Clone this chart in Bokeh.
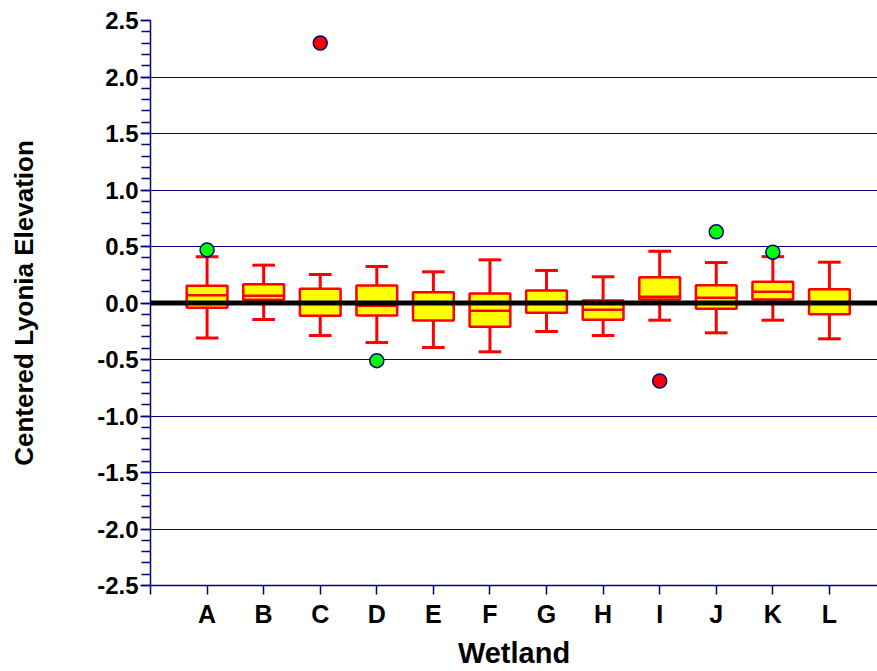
from bokeh.plotting import figure
from bokeh.models import Range1d, FixedTicker, PrintfTickFormatter, Span, ColumnDataSource
from bokeh.embed import file_html
from bokeh.resources import INLINE

# ---- data ----
categories = ["A", "B", "C", "D", "E", "F", "G", "H", "I", "J", "K", "L"]
upper = [0.41, 0.335, 0.252, 0.323, 0.276, 0.382, 0.288, 0.232, 0.458, 0.358, 0.41, 0.361]
q3 = [0.152, 0.166, 0.126, 0.155, 0.096, 0.084, 0.111, 0.022, 0.228, 0.158, 0.188, 0.122]
median = [0.069, 0.064, -0.005, -0.025, -0.005, -0.069, 0.005, -0.06, 0.055, 0.046, 0.099, 0.0]
q1 = [-0.042, 0.028, -0.113, -0.111, -0.155, -0.211, -0.087, -0.149, 0.03, -0.051, 0.031, -0.099]
lower = [-0.31, -0.146, -0.288, -0.35, -0.394, -0.432, -0.252, -0.288, -0.152, -0.264, -0.152, -0.317]

outlier_cat = ["A", "C", "D", "I", "J", "K"]
outlier_val = [0.47, 2.30, -0.51, -0.69, 0.63, 0.45]
outlier_kind = ["near", "far", "near", "far", "near", "near"]

y_ticks = [-2.5, -2.0, -1.5, -1.0, -0.5, 0.0, 0.5, 1.0, 1.5, 2.0, 2.5]

# ---- styles ----
NAVY = "#000080"
RED = "#FF0000"
YELLOW = "#FFFF00"
FONT = "Liberation Sans"
kind_color = {"near": "#00FF00", "far": "#FF0000"}
BOX_W = 0.72
CAP_W = 0.4

pos = {c: i + 1 for i, c in enumerate(categories)}
xs = [pos[c] for c in categories]

box_src = ColumnDataSource(dict(
    x=xs, upper=upper, q3=q3, median=median, q1=q1, lower=lower,
    x0=[x - BOX_W / 2 for x in xs], x1=[x + BOX_W / 2 for x in xs],
    c0=[x - CAP_W / 2 for x in xs], c1=[x + CAP_W / 2 for x in xs],
))
out_src = ColumnDataSource(dict(
    x=[pos[c] for c in outlier_cat], y=outlier_val,
    color=[kind_color[k] for k in outlier_kind],
))

p = figure(width=877, height=671, output_backend="svg", toolbar_location=None,
           x_range=Range1d(0, 12.85), y_range=Range1d(-2.5, 2.5),
           min_border_left=150, min_border_right=0, min_border_top=20,
           min_border_bottom=86)
p.outline_line_color = None
p.background_fill_color = "white"
p.border_fill_color = "white"

# whiskers
p.segment("x", "q3", "x", "upper", source=box_src, line_color=RED, line_width=3)
p.segment("x", "q1", "x", "lower", source=box_src, line_color=RED, line_width=3)
p.segment("c0", "upper", "c1", "upper", source=box_src, line_color=RED, line_width=3)
p.segment("c0", "lower", "c1", "lower", source=box_src, line_color=RED, line_width=3)
# boxes
p.vbar(x="x", width=BOX_W, top="q3", bottom="q1", source=box_src,
       fill_color=YELLOW, line_color=RED, line_width=2.5)
p.segment("x0", "median", "x1", "median", source=box_src, line_color=RED, line_width=2.5)

# zero line
p.add_layout(Span(location=0, dimension="width", line_color="black", line_width=5))

# outliers
p.scatter("x", "y", source=out_src, size=14, fill_color="color",
          line_color=NAVY, line_width=1.5, level="overlay")

# grid
p.xgrid.visible = False
p.ygrid.ticker = FixedTicker(ticks=[t for t in y_ticks if -2.5 < t < 2.5])
p.ygrid.grid_line_color = NAVY
p.ygrid.grid_line_width = 1

# y axis
minor = [round(-2.5 + 0.1 * i, 1) for i in range(51)]
p.yaxis.ticker = FixedTicker(ticks=y_ticks, minor_ticks=minor)
p.yaxis.formatter = PrintfTickFormatter(format="%.1f")
p.yaxis.axis_line_color = NAVY
p.yaxis.axis_line_width = 1.5
p.yaxis.major_tick_line_color = NAVY
p.yaxis.minor_tick_line_color = NAVY
p.yaxis.major_tick_line_width = 1.5
p.yaxis.minor_tick_line_width = 1.5
p.yaxis.major_tick_out = 10
p.yaxis.major_tick_in = 0
p.yaxis.minor_tick_out = 9
p.yaxis.minor_tick_in = 0
p.yaxis.major_label_standoff = 2
p.yaxis.major_label_text_font = FONT
p.yaxis.major_label_text_font_style = "bold"
p.yaxis.major_label_text_font_size = "24px"
p.yaxis.major_label_text_color = "black"
p.yaxis.axis_label = "Centered Lyonia Elevation"
p.yaxis.axis_label_text_font = FONT
p.yaxis.axis_label_text_font_style = "bold"
p.yaxis.axis_label_text_font_size = "26px"
p.yaxis.axis_label_text_color = "black"
p.yaxis.axis_label_standoff = 55

# x axis
p.xaxis.ticker = FixedTicker(ticks=[0] + xs)
overrides = {pos[c]: c for c in categories}
overrides[0] = ""
p.xaxis.major_label_overrides = overrides
p.xaxis.axis_line_color = NAVY
p.xaxis.axis_line_width = 1.5
p.xaxis.major_tick_line_color = NAVY
p.xaxis.major_tick_line_width = 1.5
p.xaxis.major_tick_out = 9
p.xaxis.major_tick_in = 0
p.xaxis.minor_tick_line_color = None
p.xaxis.major_label_standoff = 5
p.xaxis.major_label_text_font = FONT
p.xaxis.major_label_text_font_style = "bold"
p.xaxis.major_label_text_font_size = "25px"
p.xaxis.major_label_text_color = "black"
p.xaxis.axis_label = "Wetland"
p.xaxis.axis_label_text_font = FONT
p.xaxis.axis_label_text_font_style = "bold"
p.xaxis.axis_label_text_font_size = "29px"
p.xaxis.axis_label_text_color = "black"
p.xaxis.axis_label_standoff = 6

open("out.html", "w").write(file_html(p, INLINE))
